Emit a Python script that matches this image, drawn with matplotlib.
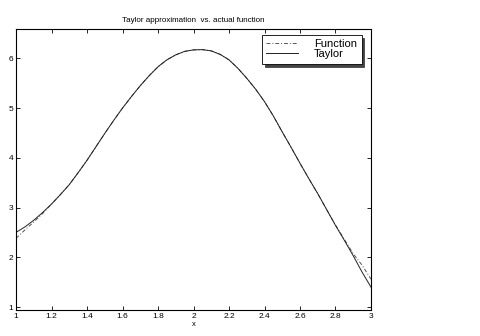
import matplotlib
matplotlib.use("Agg")
import matplotlib.pyplot as plt

x_vals = [1.0, 1.05, 1.1, 1.15, 1.2, 1.25, 1.3, 1.35, 1.4, 1.45, 1.5, 1.55, 1.6, 1.65, 1.7, 1.75, 1.8, 1.85, 1.9, 1.95, 2.0, 2.05, 2.1, 2.15, 2.2, 2.25, 2.3, 2.35, 2.4, 2.45, 2.5, 2.55, 2.6, 2.65, 2.7, 2.75, 2.8, 2.85, 2.9, 2.95, 3.0]
function_vals = [2.38, 2.55, 2.71, 2.88, 3.07, 3.26, 3.46, 3.70, 3.95, 4.22, 4.49, 4.75, 5.00, 5.23, 5.45, 5.65, 5.83, 5.97, 6.07, 6.14, 6.17, 6.175, 6.15, 6.08, 5.97, 5.80, 5.60, 5.38, 5.13, 4.84, 4.52, 4.21, 3.89, 3.58, 3.28, 2.96, 2.65, 2.36, 2.07, 1.84, 1.56]
taylor_vals = [2.50, 2.61, 2.745, 2.90, 3.07, 3.26, 3.46, 3.70, 3.95, 4.22, 4.49, 4.75, 5.00, 5.23, 5.45, 5.65, 5.83, 5.97, 6.07, 6.14, 6.17, 6.175, 6.15, 6.08, 5.97, 5.80, 5.60, 5.38, 5.13, 4.84, 4.52, 4.21, 3.89, 3.58, 3.28, 2.96, 2.64, 2.34, 2.03, 1.70, 1.40]
x_ticks = [1, 1.2, 1.4, 1.6, 1.8, 2, 2.2, 2.4, 2.6, 2.8, 3]
x_tick_labels = ["1", "1.2", "1.4", "1.6", "1.8", "2", "2.2", "2.4", "2.6", "2.8", "3"]
y_ticks = [1, 2, 3, 4, 5, 6]

plt.rcParams['font.family'] = ['Liberation Sans', 'DejaVu Sans']

fig = plt.figure(figsize=(4.8, 3.36), dpi=100)
ax = fig.add_axes([16/480, 26/336, 355/480, 281/336])

ax.plot(x_vals, function_vals, color='#555555', linestyle='-.', linewidth=0.7, label='Function', dashes=[4, 2, 1, 2])
ax.plot(x_vals, taylor_vals, color='#222222', linestyle='-', linewidth=0.7, label='Taylor')

ax.set_xlim(1, 3)
ax.set_ylim(0.94, 6.59)
ax.set_xticks(x_ticks)
ax.set_xticklabels(x_tick_labels)
ax.set_yticks(y_ticks)
ax.tick_params(direction='in', length=3, width=0.6, labelsize=6, top=True, right=True, pad=2, colors='black')
for s in ax.spines.values():
    s.set_linewidth(0.8)

ax.set_title("Taylor approximation  vs. actual function", fontsize=5.8, pad=5)
ax.set_xlabel("x", fontsize=5.5, labelpad=1)

leg = ax.legend(loc='upper right', fontsize=8, frameon=True, fancybox=False,
                shadow={'color': '#444444', 'alpha': 1.0},
                bbox_to_anchor=(0.983, 0.991), borderpad=0.4, handlelength=2.8, handletextpad=1.5,
                labelspacing=0.0, markerfirst=True, borderaxespad=0.3)
leg.get_frame().set_edgecolor('black')
leg.get_frame().set_linewidth(0.6)

fig.savefig("out.png", dpi=100)
